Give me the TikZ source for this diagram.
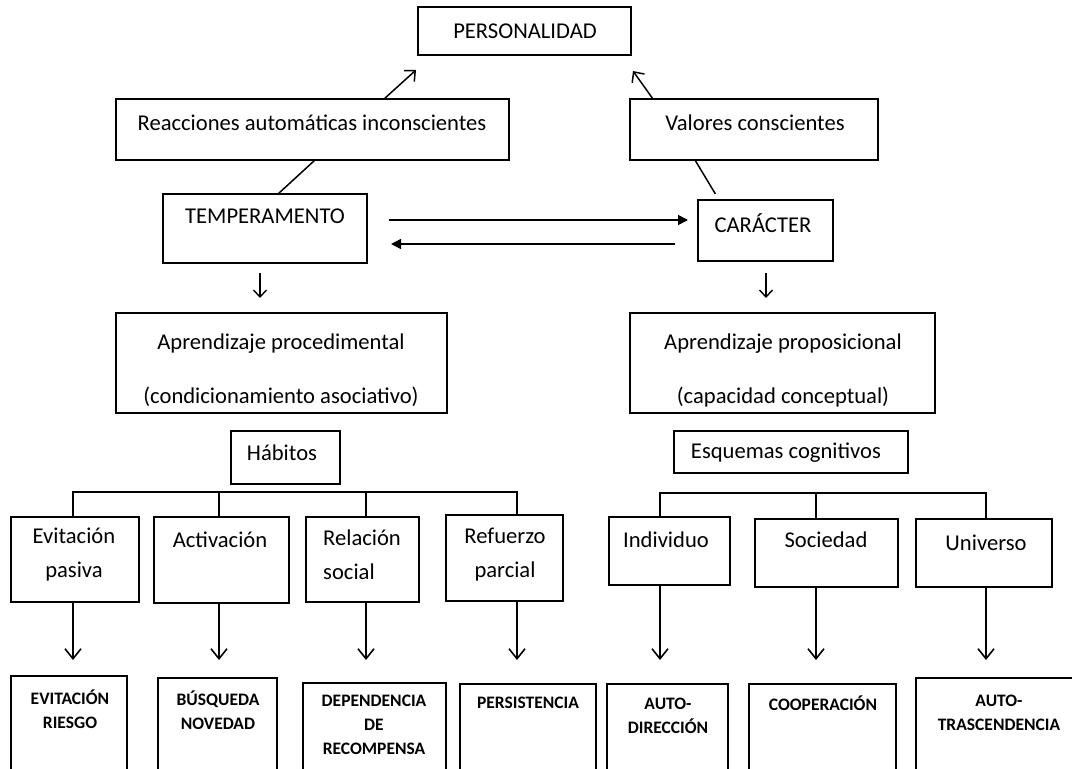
\documentclass[tikz,border=0pt]{standalone}
\usepackage{fontspec}
\setmainfont{Carlito}
\usetikzlibrary{arrows.meta}
\newcommand\bx[5]{\node[box, minimum width={#4-#2}, minimum height={#5-#3}] (#1) at ({(#2+#4)/2},{(#3+#5)/2}) {};}
\begin{document}
\begin{tikzpicture}[x=1pt,y=-1pt,
  box/.style={draw, line width=1.5pt, inner sep=0pt, outer sep=0pt},
  txt/.style={font=\fontsize{22.6}{34}\selectfont, align=center, inner sep=0pt},
  wtxt/.style={font=\fontsize{22.6}{54}\selectfont, align=center, inner sep=0pt},
  btxt/.style={font=\bfseries\fontsize{17.5}{24}\selectfont, align=center, inner sep=0pt},
  ln/.style={line width=1.5pt},
  barb/.style={line width=1.5pt, -{Straight Barb[length=8pt,width=15pt]}},
  dbarb/.style={line width=1.6pt, -{Straight Barb[length=10pt,width=16pt]}},
  sbarb/.style={line width=1.4pt, -{Straight Barb[length=7pt,width=13pt]}},
  tri/.style={line width=1.5pt, -{Triangle[length=10pt,width=10pt]}}]
\useasboundingbox (0,0) rectangle (1072,769);
\clip (0,0) rectangle (1072,769);
% boxes
\bx{pers}{418}{7}{631}{55}
\bx{reac}{116}{99}{509}{160}
\bx{val}{630}{99}{878}{160}
\bx{temp}{163}{194}{367}{263}
\bx{car}{698}{200}{833}{261}
\bx{aproc}{116}{313}{447}{413}
\bx{aprop}{630}{313}{935}{413}
\bx{hab}{231}{431}{340}{484}
\bx{esq}{674}{431}{908}{473}
\bx{ev}{11}{517}{139}{602}
\bx{act}{154}{517}{289}{603}
\bx{rel}{306}{517}{419}{602}
\bx{rp}{446}{515}{563}{601}
\bx{ind}{609}{517}{730}{585}
\bx{soc}{755}{519}{898}{587}
\bx{uni}{916}{519}{1052}{587}
\bx{b1}{11}{676}{127}{800}
\bx{b2}{158}{678}{277}{800}
\bx{b3}{303}{683}{446}{800}
\bx{b4}{460}{684}{596}{800}
\bx{b5}{607}{684}{728}{800}
\bx{b6}{749}{684}{896}{800}
\bx{b7}{916}{678}{1085}{800}
% texts
\node[txt] (tpers) at (525,31) {PERSONALIDAD};
\node[txt] (treac) at (312,123) {Reacciones automáticas inconscientes};
\node[txt] (tval) at (755,123) {Valores conscientes};
\node[txt] (ttemp) at (265,216) {TEMPERAMENTO};
\node[txt] (tcar) at (763,223) {CARÁCTER};
\node[wtxt] (taproc) at (281,370) {Aprendizaje procedimental\\(condicionamiento asociativo)};
\node[wtxt] (taprop) at (783,370) {Aprendizaje proposicional\\(capacidad conceptual)};
\node[txt] (thab) at (282,453) {Hábitos};
\node[txt] (tesq) at (786,453) {Esquemas cognitivos};
\node[txt] (tev) at (74,555) {Evitación\\pasiva};
\node[txt] (tact) at (220,540) {Activación};
\node[txt, align=left, anchor=west] (trel) at (323,555) {Relación\\social};
\node[txt] (trp) at (505,555) {Refuerzo\\parcial};
\node[txt] (tind) at (666,540) {Individuo};
\node[txt] (tsoc) at (826,540) {Sociedad};
\node[txt] (tuni) at (986,543) {Universo};
\node[btxt] (tb1) at (70,709) {EVITACIÓN\\RIESGO};
\node[btxt] (tb2) at (218,710) {BÚSQUEDA\\NOVEDAD};
\node[btxt] (tb3) at (374,725) {DEPENDENCIA\\DE\\RECOMPENSA};
\node[btxt] (tb4) at (528,703) {PERSISTENCIA};
\node[btxt] (tb5) at (668,715.5) {AUTO-\\DIRECCIÓN};
\node[btxt] (tb6) at (823,703) {COOPERACIÓN};
\node[btxt] (tb7) at (999,712.5) {AUTO-\\TRASCENDENCIA};
% connectors top
\coordinate (t1) at (416,70);
\coordinate (t2) at (633,71);
\draw[barb] ([xshift=71.5pt]reac.north) -- (t1);
\draw[barb] ([xshift=-101pt]val.north) -- (t2);
\draw[ln] ([xshift=13pt]temp.north) -- ([xshift=2.5pt]reac.south);
\draw[ln, shorten <=7pt] ([xshift=-46.5pt]car.north) -- ([xshift=-59pt]val.south);
\coordinate (h1) at (0,220);
\coordinate (h2) at (0,244);
\draw[tri, shorten <=22pt, shorten >=10pt] (temp.east |- h1) -- (car.west |- h1);
\draw[tri, shorten <=23pt, shorten >=24pt] (car.west |- h2) -- (temp.east |- h2);
\draw[sbarb, shorten <=10pt, shorten >=15pt] ([xshift=-5pt]temp.south) -- ([xshift=-5pt]temp.south |- aproc.north);
\draw[sbarb, shorten <=12pt, shorten >=15pt] ([xshift=0.5pt]car.south) -- ([xshift=0.5pt]car.south |- aprop.north);
% buses
\coordinate (hb) at (0,492);
\coordinate (eb) at (0,493);
\draw[ln] ([xshift=-2pt]ev.north) -- ([xshift=-2pt]ev.north |- hb) -- ([xshift=12.5pt]rp.north |- hb) -- ([xshift=12.5pt]rp.north);
\draw[ln] ([xshift=-2.5pt]act.north) -- ([xshift=-2.5pt]act.north |- hb);
\draw[ln] ([xshift=3.5pt]rel.north) -- ([xshift=3.5pt]rel.north |- hb);
\draw[ln] ([xshift=-9.5pt]ind.north) -- ([xshift=-9.5pt]ind.north |- eb) -- ([xshift=2pt]uni.north |- eb) -- ([xshift=2pt]uni.north);
\draw[ln] ([xshift=-10.5pt]soc.north) -- ([xshift=-10.5pt]soc.north |- eb);
% down arrows
\draw[dbarb, shorten >=16pt] ([xshift=-2pt]ev.south) -- ([xshift=-2pt]ev.south |- b1.north);
\draw[dbarb, shorten >=18pt] ([xshift=-2.5pt]act.south) -- ([xshift=-2.5pt]act.south |- b2.north);
\draw[dbarb, shorten >=23pt] ([xshift=3.5pt]rel.south) -- ([xshift=3.5pt]rel.south |- b3.north);
\draw[dbarb, shorten >=24pt] ([xshift=12.5pt]rp.south) -- ([xshift=12.5pt]rp.south |- b4.north);
\draw[dbarb, shorten >=24pt] ([xshift=-9.5pt]ind.south) -- ([xshift=-9.5pt]ind.south |- b5.north);
\draw[dbarb, shorten >=24pt] ([xshift=-10.5pt]soc.south) -- ([xshift=-10.5pt]soc.south |- b6.north);
\draw[dbarb, shorten >=18pt] ([xshift=2pt]uni.south) -- ([xshift=2pt]uni.south |- b7.north);
\end{tikzpicture}
\end{document}
